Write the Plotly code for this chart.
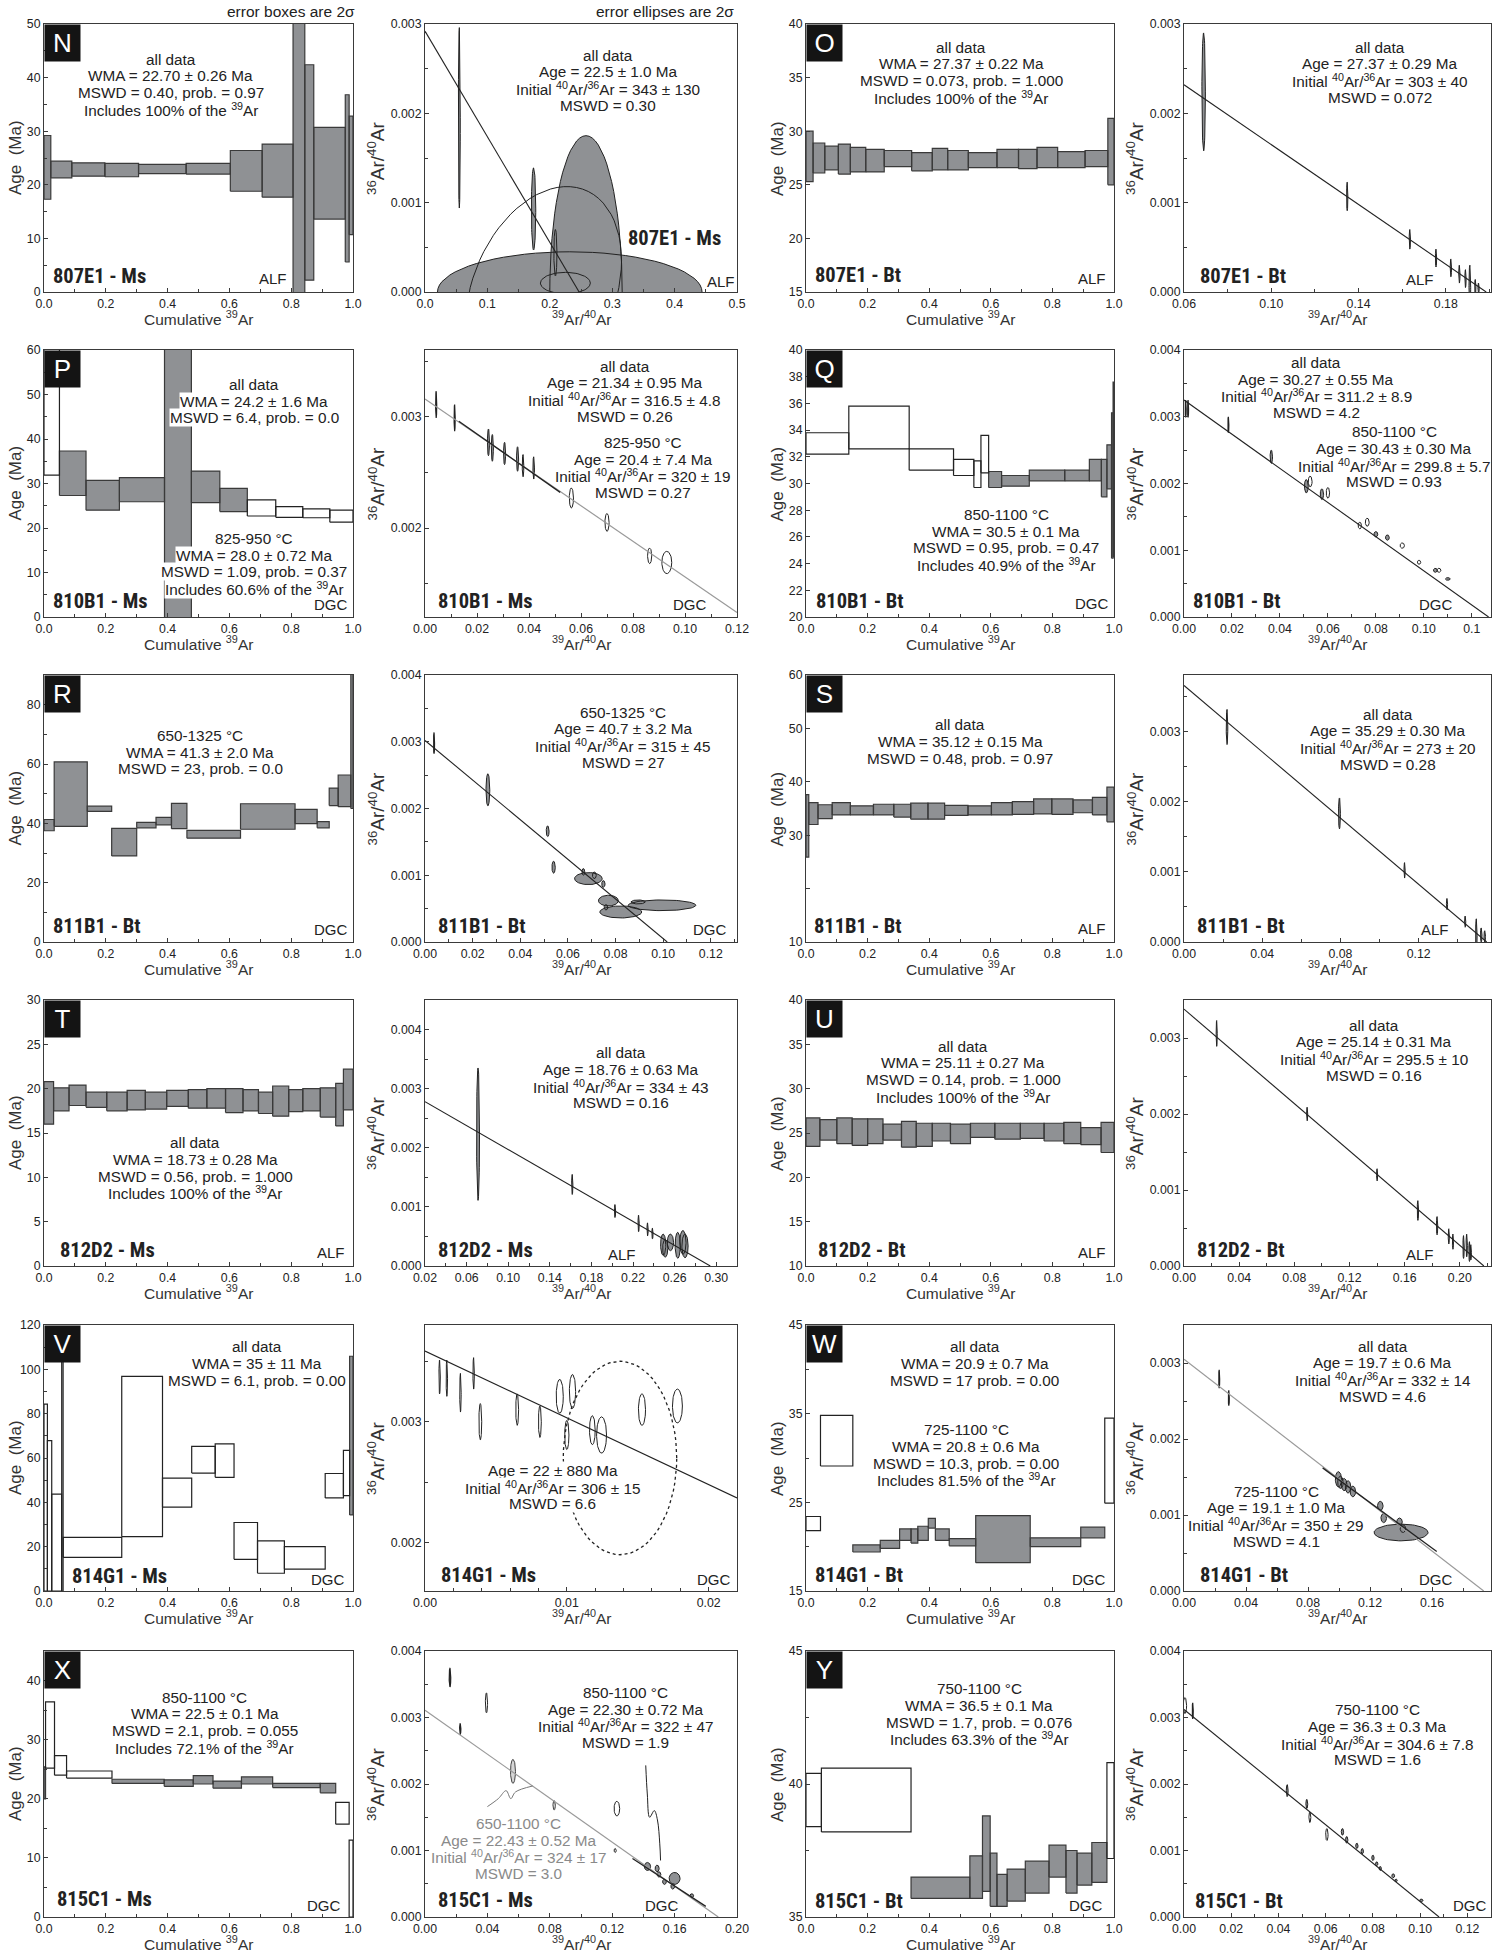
import numpy as np
import plotly.graph_objects as go

# ============================ DATA ============================
# Age spectra: cumulative 39Ar step boundaries, 2-sigma box low / high (Ma),
# box type per step (G = grey, used in mean; W = open, excluded)
N_cum = [0, 0.022, 0.09, 0.197, 0.306, 0.46, 0.603, 0.706, 0.806, 0.844, 0.873, 0.975, 0.9875, 1.0]
N_lo = [17.3, 21.3, 21.6, 21.5, 22.1, 22.0, 18.8, 17.7, -5, 2.2, 13.6, 5.6, 10.7]
N_hi = [29.2, 24.4, 24.1, 24.0, 23.8, 24.0, 26.4, 27.6, 60, 42.4, 30.7, 36.8, 32.8]
N_kind = "GGGGGGGGGGGGG"

O_cum = [0, 0.023, 0.061, 0.105, 0.144, 0.194, 0.254, 0.343, 0.41, 0.46, 0.527, 0.62, 0.69, 0.75, 0.817, 0.906, 0.98, 1.0]
O_lo = [25.3, 26.1, 26.4, 26.0, 26.2, 26.2, 26.7, 26.3, 26.4, 26.4, 26.6, 26.6, 26.5, 26.6, 26.6, 26.7, 25.0]
O_hi = [30.0, 28.9, 28.6, 28.8, 28.5, 28.3, 28.2, 28.0, 28.4, 28.2, 28.0, 28.3, 28.3, 28.5, 28.1, 28.2, 31.2]
O_kind = "GGGGGGGGGGGGGGGGG"

P_cum = [0, 0.05, 0.136, 0.244, 0.39, 0.477, 0.569, 0.658, 0.75, 0.8375, 0.925, 1.0]
P_lo = [31.9, 27.3, 24.0, 25.9, -5, 25.7, 23.7, 22.7, 22.4, 22.3, 21.3]
P_hi = [70, 37.3, 30.7, 31.3, 70, 32.8, 28.9, 26.3, 24.8, 24.3, 24.0]
P_kind = "WGGGGGGWWWW"

Q_cum = [0, 0.139, 0.335, 0.479, 0.545, 0.568, 0.593, 0.635, 0.725, 0.84, 0.92, 0.959, 0.977, 0.992, 0.997, 1.0]
Q_lo = [32.2, 32.6, 31.0, 30.6, 29.7, 30.8, 29.7, 29.8, 30.2, 30.2, 30.2, 29.0, 29.6, 24.4, 24.5]
Q_hi = [33.8, 35.8, 32.6, 31.8, 31.7, 33.6, 30.9, 30.6, 31.0, 31.0, 31.8, 31.8, 32.9, 35.3, 37.6]
Q_kind = "WWWWWWGGGGGGGGG"

R_cum = [0, 0.033, 0.14, 0.219, 0.30, 0.3625, 0.4125, 0.4625, 0.636, 0.8125, 0.884, 0.923, 0.952, 0.993, 1.0]
R_lo = [37.5, 39.0, 44.0, 29.0, 38.5, 39.5, 38.2, 35.0, 38.0, 39.9, 38.5, 46.0, 45.6, 45.0]
R_hi = [41.3, 60.7, 45.8, 38.3, 40.3, 42.0, 46.7, 37.6, 46.6, 44.7, 40.6, 51.9, 56.3, 95.0]
R_kind = "GGGGGGGGGGGGGG"

S_cum = [0, 0.009, 0.039, 0.085, 0.144, 0.219, 0.285, 0.34, 0.396, 0.45, 0.526, 0.602, 0.67, 0.739, 0.798, 0.867, 0.93, 0.977, 1.0]
S_lo = [25.9, 32.0, 33.1, 33.8, 33.8, 33.8, 33.4, 33.0, 33.0, 33.7, 33.8, 33.8, 33.9, 34.0, 33.9, 34.2, 33.8, 32.5]
S_hi = [37.6, 36.1, 35.7, 36.1, 35.5, 35.8, 35.8, 36.0, 36.0, 35.6, 35.5, 36.1, 36.3, 36.8, 36.8, 36.6, 37.1, 39.0]
S_kind = "GGGGGGGGGGGGGGGGGG"

T_cum = [0, 0.031, 0.081, 0.136, 0.203, 0.269, 0.328, 0.397, 0.467, 0.527, 0.5875, 0.644, 0.694, 0.74, 0.792, 0.8375, 0.894, 0.944, 0.969, 1.0]
T_lo = [16.0, 17.5, 18.1, 17.9, 17.5, 17.6, 17.7, 18.0, 17.8, 17.8, 17.3, 17.5, 17.2, 16.9, 17.4, 17.5, 16.8, 15.8, 17.6]
T_hi = [20.8, 20.1, 20.4, 19.6, 19.6, 19.8, 19.6, 19.8, 19.9, 20.0, 20.0, 19.9, 19.6, 20.3, 19.9, 20.0, 20.1, 20.6, 22.2]
T_kind = "GGGGGGGGGGGGGGGGGGG"

U_cum = [0, 0.045, 0.10, 0.15, 0.20, 0.25, 0.31, 0.358, 0.41, 0.469, 0.534, 0.613, 0.696, 0.773, 0.837, 0.892, 0.958, 1.0]
U_lo = [23.5, 24.2, 23.8, 23.6, 23.8, 24.2, 23.4, 23.5, 24.1, 23.8, 24.5, 24.3, 24.4, 24.1, 23.8, 23.7, 22.8]
U_hi = [26.7, 26.5, 26.7, 26.6, 26.6, 26.0, 26.3, 26.1, 26.1, 26.0, 26.1, 26.1, 26.1, 26.1, 26.2, 25.6, 26.2]
U_kind = "GGGGGGGGGGGGGGGGG"

V_cum = [0, 0.011, 0.025, 0.057, 0.062, 0.2516, 0.3835, 0.478, 0.554, 0.615, 0.691, 0.778, 0.91, 0.969, 0.989, 1.0]
V_lo = [0, 0, 0, 0, 15.2, 24.5, 37.8, 53.2, 51.3, 14.3, 8.0, 9.9, 42.0, 43.0, 34.3]
V_hi = [84.3, 67.8, 43.7, 106.0, 24.2, 96.8, 50.9, 65.2, 66.4, 30.9, 22.6, 20.0, 53.0, 63.4, 105.9]
V_kind = "WWWGWWWWWWWWWWG"

W_cum = [0, 0.047, 0.152, 0.241, 0.304, 0.341, 0.363, 0.397, 0.42, 0.465, 0.551, 0.728, 0.892, 0.97, 1.0]
W_lo = [21.8, 29.1, 19.4, 19.8, 20.7, 20.4, 20.7, 22.1, 20.7, 20.1, 18.2, 20.0, 21.0, 24.9]
W_hi = [23.4, 34.8, 20.2, 20.7, 22.0, 22.0, 22.3, 23.2, 22.0, 20.9, 23.5, 21.0, 22.2, 34.5]
W_kind = "WWGGGGGGGGGGGW"

X_cum = [0, 0.005, 0.034, 0.073, 0.22, 0.389, 0.483, 0.547, 0.639, 0.74, 0.894, 0.944, 0.9875, 1.0]
X_lo = [20.0, 25.2, 24.0, 23.5, 22.6, 22.1, 22.5, 21.8, 22.5, 21.9, 21.0, 15.7, 0.0]
X_hi = [25.4, 36.4, 27.3, 24.7, 23.3, 23.2, 23.9, 23.0, 23.7, 22.6, 22.6, 19.4, 13.0]
X_kind = "GWWWGGGGGGGWW"

Y_cum = [0, 0.05, 0.341, 0.532, 0.573, 0.598, 0.62, 0.653, 0.712, 0.789, 0.844, 0.88, 0.928, 0.977, 1.0]
Y_lo = [38.4, 38.2, 35.7, 35.7, 35.96, 35.4, 35.4, 35.6, 35.9, 36.5, 35.9, 36.2, 36.3, 37.2]
Y_hi = [40.4, 40.6, 36.5, 37.3, 38.8, 37.4, 36.6, 36.8, 37.1, 37.7, 37.5, 37.4, 37.8, 40.8]
Y_kind = "WWGGGGGGGGGGGW"

# Inverse isochrons: ellipse centre (39Ar/40Ar, 36Ar/40Ar), 2-sigma half widths, correlation,
# style (g grey, w open, d dark, l light grey, o dotted), and isochron fit end points
isoN_cx = [0.232, 0.258, 0.19, 0.225, 0.055, 0.174, 0.209]
isoN_cy = [0.0, 0.0, 0.0, 0.0001, 0.00195, 0.00093, 0.00044]
isoN_sx = [0.212, 0.058, 0.125, 0.04, 0.0015, 0.0035, 0.0025]
isoN_sy = [0.00045, 0.00175, 0.00118, 0.00012, 0.00101, 0.00046, 0.00026]
isoN_rho = [0, 0, 0.3, 0, 0, 0, 0]
isoN_kind = "ggwwggg"
isoN_fit_x = [0.0, 0.247]
isoN_fit_y = [0.00292, 0.0]

isoO_cx = [0.069, 0.1348, 0.1635, 0.1755, 0.1823, 0.1862, 0.189, 0.191, 0.1935, 0.195]
isoO_cy = [0.00224, 0.00107, 0.00059, 0.00038, 0.00027, 0.0002, 0.00015, 0.00005, 0.00006, 0.00004]
isoO_sx = [0.0008, 0.0003, 0.0003, 0.0003, 0.0003, 0.0003, 0.0003, 0.0004, 0.0003, 0.0003]
isoO_sy = [0.00066, 0.00016, 0.00011, 0.0001, 0.0001, 0.0001, 0.0001, 0.00025, 0.00008, 0.00006]
isoO_kind = "gggggggggg"
isoO_fit_x = [0.06, 0.1985]
isoO_fit_y = [0.00232, 0.0]

isoP_cx = [0.0043, 0.0114, 0.0244, 0.0259, 0.0306, 0.0356, 0.0377, 0.0418, 0.0563, 0.070, 0.0864, 0.093]
isoP_cy = [0.00311, 0.00299, 0.00277, 0.00272, 0.00267, 0.00262, 0.00256, 0.00254, 0.00227, 0.00205, 0.00175, 0.00169]
isoP_sx = [0.0002, 0.0002, 0.0004, 0.0004, 0.0004, 0.0004, 0.0003, 0.0003, 0.0008, 0.0008, 0.0008, 0.0019]
isoP_sy = [0.00012, 0.00012, 0.00012, 0.00012, 0.0001, 0.00011, 0.0001, 0.0001, 0.00009, 0.00008, 0.00007, 0.0001]
isoP_kind = "ddggggggwwww"
isoP_fit_x = [0.0, 0.12]
isoP_fit_y = [0.00316, 0.00124]
isoP_sub_x = [0.013, 0.052]
isoP_sub_y = [0.00296, 0.00232]

isoQ_cx = [0.0007, 0.0017, 0.0185, 0.0364, 0.051, 0.0526, 0.0575, 0.060, 0.0733, 0.0764, 0.080, 0.0848, 0.091, 0.098, 0.1048, 0.1063, 0.110]
isoQ_cy = [0.00312, 0.00312, 0.00288, 0.00240, 0.00196, 0.00203, 0.00184, 0.00186, 0.00137, 0.00142, 0.00124, 0.00119, 0.00107, 0.00082, 0.00070, 0.00070, 0.00057]
isoQ_sx = [0.0002, 0.0002, 0.0002, 0.0005, 0.0008, 0.0008, 0.0007, 0.0007, 0.0007, 0.0008, 0.0008, 0.0008, 0.0009, 0.0007, 0.0008, 0.0008, 0.001]
isoQ_sy = [0.00013, 0.00013, 0.00012, 0.0001, 0.0001, 0.00008, 0.00008, 0.00008, 0.00005, 0.00006, 0.00004, 0.00004, 0.00004, 0.00003, 0.00003, 0.00003, 0.00002]
isoQ_kind = "dddggwgwwwggwwgwg"
isoQ_fit_x = [0.0, 0.127]
isoQ_fit_y = [0.00325, 0.0]

isoR_cx = [0.0038, 0.0995, 0.0822, 0.0686, 0.077, 0.0264, 0.0515, 0.054, 0.0665, 0.0711, 0.0749, 0.076, 0.0895]
isoR_cy = [0.00298, 0.00055, 0.00045, 0.00095, 0.00062, 0.00228, 0.00166, 0.00112, 0.00105, 0.001, 0.00087, 0.00052, 0.0006]
isoR_sx = [0.0002, 0.0142, 0.0088, 0.0058, 0.0042, 0.0008, 0.0006, 0.0007, 0.0006, 0.0008, 0.0007, 0.0008, 0.003]
isoR_sy = [0.00016, 0.00008, 0.00009, 0.00009, 0.00008, 0.00024, 0.00008, 0.00009, 0.00005, 0.00005, 0.00005, 0.00004, 0.00003]
isoR_kind = "dgggggggggggg"
isoR_fit_x = [0.0, 0.1017]
isoR_fit_y = [0.00302, 0.0]

isoS_cx = [0.022, 0.0795, 0.1128, 0.1345, 0.1438, 0.1495, 0.152, 0.1538]
isoS_cy = [0.00306, 0.00183, 0.00102, 0.00054, 0.00029, 0.00009, 0.0001, 0.00008]
isoS_sx = [0.0004, 0.0005, 0.0003, 0.0003, 0.0003, 0.0004, 0.0004, 0.0004]
isoS_sy = [0.00025, 0.00022, 0.00011, 0.00008, 0.00008, 0.00024, 0.0001, 0.00008]
isoS_kind = "gggggggg"
isoS_fit_x = [0.0, 0.1548]
isoS_fit_y = [0.00365, 0.0]

isoT_cx = [0.071, 0.1616, 0.2027, 0.2254, 0.234, 0.2387, 0.249, 0.251, 0.256, 0.263, 0.268, 0.27]
isoT_cy = [0.00223, 0.00138, 0.00093, 0.00072, 0.00062, 0.00055, 0.00036, 0.0003, 0.0004, 0.00035, 0.0004, 0.00034]
isoT_sx = [0.0014, 0.0006, 0.0006, 0.0006, 0.0006, 0.0006, 0.0025, 0.0025, 0.003, 0.0025, 0.003, 0.003]
isoT_sy = [0.00112, 0.00017, 0.00011, 0.00014, 0.00011, 0.00009, 0.00018, 0.00015, 0.00014, 0.00022, 0.0002, 0.0002]
isoT_kind = "gggggggggggg"
isoT_fit_x = [0.02, 0.2943]
isoT_fit_y = [0.00278, 0.0]

isoU_cx = [0.0237, 0.0893, 0.14, 0.1696, 0.1835, 0.192, 0.195, 0.2027, 0.205, 0.207, 0.208]
isoU_cy = [0.00306, 0.002, 0.0012, 0.00073, 0.00053, 0.00039, 0.00032, 0.00025, 0.00027, 0.00019, 0.00018]
isoU_sx = [0.0004, 0.0004, 0.0004, 0.0005, 0.0005, 0.0004, 0.0004, 0.0005, 0.0005, 0.0005, 0.0004]
isoU_sy = [0.00017, 0.00009, 0.00008, 0.00013, 0.00012, 0.0001, 0.0001, 0.00015, 0.00015, 0.00013, 0.0001]
isoU_kind = "ggggggggggg"
isoU_fit_x = [0.0, 0.2174]
isoU_fit_y = [0.00338, 0.0]

isoV_cx = [0.00103, 0.00154, 0.0025, 0.00343, 0.0039, 0.0065, 0.0081, 0.0095, 0.0100, 0.0104, 0.0118, 0.01245, 0.0153, 0.0178, 0.01375]
isoV_cy = [0.00337, 0.00336, 0.00324, 0.0034, 0.0030, 0.0031, 0.0030, 0.00321, 0.00289, 0.00325, 0.00293, 0.00289, 0.0031, 0.00313, 0.0027]
isoV_sx = [0.00005, 0.00005, 0.00005, 0.00005, 0.0001, 0.0001, 0.0001, 0.00025, 0.00015, 0.00022, 0.0002, 0.00035, 0.00025, 0.00035, 0.004]
isoV_sy = [0.00014, 0.00015, 0.00016, 0.00013, 0.00015, 0.00013, 0.00013, 0.00014, 0.00012, 0.00014, 0.00012, 0.00015, 0.00013, 0.00014, 0.0008]
isoV_kind = "wwwwwwwwwwwwwwo"
isoV_fit_x = [0.0, 0.022]
isoV_fit_y = [0.003584, 0.00237]

isoW_cx = [0.0227, 0.0289, 0.14, 0.0996, 0.1009, 0.1033, 0.1058, 0.1089, 0.1266, 0.1288, 0.139, 0.1412]
isoW_cy = [0.00279, 0.00254, 0.00077, 0.00147, 0.00143, 0.0014, 0.00137, 0.00131, 0.00112, 0.00096, 0.00091, 0.00082]
isoW_sx = [0.0003, 0.0003, 0.0174, 0.002, 0.0018, 0.0018, 0.0018, 0.0018, 0.0018, 0.0018, 0.0018, 0.0018]
isoW_sy = [0.00012, 0.0001, 0.00011, 0.0001, 0.00008, 0.00008, 0.00008, 0.00007, 0.00006, 0.00006, 0.00005, 0.00005]
isoW_kind = "ddgggggggggg"
isoW_fit_x = [0.0, 0.1933]
isoW_fit_y = [0.00305, 0.0]
isoW_sub_x = [0.0894, 0.163]
isoW_sub_y = [0.00162, 0.00052]

isoX_cx = [0.016, 0.0394, 0.0226, 0.0564, 0.0828, 0.123, 0.1219, 0.1426, 0.1488, 0.150, 0.1535, 0.160, 0.1588, 0.171]
isoX_cy = [0.0036, 0.00322, 0.00283, 0.00219, 0.00168, 0.00163, 0.001, 0.00076, 0.00073, 0.00064, 0.00053, 0.00058, 0.00046, 0.00032]
isoX_sx = [0.0005, 0.0007, 0.0004, 0.0016, 0.0008, 0.0018, 0.0007, 0.002, 0.0013, 0.0012, 0.0012, 0.0035, 0.0012, 0.0012]
isoX_sy = [0.00014, 0.00015, 0.00008, 0.00018, 0.00007, 0.00011, 0.00003, 0.00006, 0.00005, 0.00004, 0.00004, 0.00009, 0.00004, 0.00003]
isoX_kind = "dwdllwwggggggg"
isoX_fit_x = [0.0, 0.188]
isoX_fit_y = [0.00311, 0.0]
isoX_sub_x = [0.133, 0.18]
isoX_sub_y = [0.00088, 0.00016]
isoX_lead_grey_x = [0.040, 0.047, 0.052, 0.055, 0.058, 0.069]
isoX_lead_grey_y = [0.00166, 0.00178, 0.0019, 0.00178, 0.00188, 0.00197]
isoX_lead_black_x = [0.1415, 0.1425, 0.1440, 0.1470, 0.1490, 0.1505, 0.151]
isoX_lead_black_y = [0.00228, 0.00185, 0.00150, 0.00160, 0.00146, 0.00110, 0.00085]

isoY_cx = [0.0004, 0.0037, 0.0437, 0.052, 0.0533, 0.0605, 0.0671, 0.0689, 0.0732, 0.0755, 0.08, 0.0816, 0.0831, 0.0886, 0.0898, 0.1005]
isoY_cy = [0.00318, 0.0031, 0.0019, 0.0017, 0.0015, 0.00124, 0.00128, 0.00116, 0.00107, 0.00099, 0.00089, 0.0008, 0.00073, 0.00062, 0.00055, 0.00025]
isoY_sx = [0.0007, 0.0002, 0.0004, 0.0004, 0.0004, 0.0005, 0.0005, 0.0005, 0.0005, 0.0005, 0.0005, 0.0005, 0.0005, 0.0006, 0.0005, 0.0007]
isoY_sy = [0.00012, 0.00012, 0.00009, 0.00007, 0.00008, 0.00009, 0.00005, 0.00005, 0.00004, 0.00004, 0.00004, 0.00003, 0.00003, 0.00003, 0.00002, 0.00002]
isoY_kind = "wdggwwgggggggggg"
isoY_fit_x = [0.0, 0.108]
isoY_fit_y = [0.00312, 0.0]

# ------------------------- texts -------------------------
INIT = "Initial <sup>40</sup>Ar/<sup>36</sup>Ar = "
INC = " of the <sup>39</sup>Ar"
N_txt = ["all data", "WMA = 22.70 ± 0.26 Ma", "MSWD = 0.40, prob. = 0.97", "Includes 100%" + INC]
isoN_txt = ["all data", "Age = 22.5 ± 1.0 Ma", INIT + "343 ± 130", "MSWD = 0.30"]
O_txt = ["all data", "WMA = 27.37 ± 0.22 Ma", "MSWD = 0.073, prob. = 1.000", "Includes 100%" + INC]
isoO_txt = ["all data", "Age = 27.37 ± 0.29 Ma", INIT + "303 ± 40", "MSWD = 0.072"]
P_txt_a = ["all data", "WMA = 24.2 ± 1.6 Ma", "MSWD = 6.4, prob. = 0.0"]
P_txt_b = ["825-950 °C", "WMA = 28.0 ± 0.72 Ma", "MSWD = 1.09, prob. = 0.37", "Includes 60.6%" + INC]
isoP_txt_a = ["all data", "Age = 21.34 ± 0.95 Ma", INIT + "316.5 ± 4.8", "MSWD = 0.26"]
isoP_txt_b = ["825-950 °C", "Age = 20.4 ± 7.4 Ma", INIT + "320 ± 19", "MSWD = 0.27"]
Q_txt = ["850-1100 °C", "WMA = 30.5 ± 0.1 Ma", "MSWD = 0.95, prob. = 0.47", "Includes 40.9%" + INC]
isoQ_txt_a = ["all data", "Age = 30.27 ± 0.55 Ma", INIT + "311.2 ± 8.9", "MSWD = 4.2"]
isoQ_txt_b = ["850-1100 °C", "Age = 30.43 ± 0.30 Ma", INIT + "299.8 ± 5.7", "MSWD = 0.93"]
R_txt = ["650-1325 °C", "WMA = 41.3 ± 2.0 Ma", "MSWD = 23, prob. = 0.0"]
isoR_txt = ["650-1325 °C", "Age = 40.7 ± 3.2 Ma", INIT + "315 ± 45", "MSWD = 27"]
S_txt = ["all data", "WMA = 35.12 ± 0.15 Ma", "MSWD = 0.48, prob. = 0.97"]
isoS_txt = ["all data", "Age = 35.29 ± 0.30 Ma", INIT + "273 ± 20", "MSWD = 0.28"]
T_txt = ["all data", "WMA = 18.73 ± 0.28 Ma", "MSWD = 0.56, prob. = 1.000", "Includes 100%" + INC]
isoT_txt = ["all data", "Age = 18.76 ± 0.63 Ma", INIT + "334 ± 43", "MSWD = 0.16"]
U_txt = ["all data", "WMA = 25.11 ± 0.27 Ma", "MSWD = 0.14, prob. = 1.000", "Includes 100%" + INC]
isoU_txt = ["all data", "Age = 25.14 ± 0.31 Ma", INIT + "295.5 ± 10", "MSWD = 0.16"]
V_txt = ["all data", "WMA = 35 ± 11 Ma", "MSWD = 6.1, prob. = 0.00"]
isoV_txt = ["Age = 22 ± 880 Ma", INIT + "306 ± 15", "MSWD = 6.6"]
W_txt_a = ["all data", "WMA = 20.9 ± 0.7 Ma", "MSWD = 17 prob. = 0.00"]
W_txt_b = ["725-1100 °C", "WMA = 20.8 ± 0.6 Ma", "MSWD = 10.3, prob. = 0.00", "Includes 81.5%" + INC]
isoW_txt_a = ["all data", "Age = 19.7 ± 0.6 Ma", INIT + "332 ± 14", "MSWD = 4.6"]
isoW_txt_b = ["725-1100 °C", "Age = 19.1 ± 1.0 Ma", INIT + "350 ± 29", "MSWD = 4.1"]
X_txt = ["850-1100 °C", "WMA = 22.5 ± 0.1 Ma", "MSWD = 2.1, prob. = 0.055", "Includes 72.1%" + INC]
isoX_txt_a = ["850-1100 °C", "Age = 22.30 ± 0.72 Ma", INIT + "322 ± 47", "MSWD = 1.9"]
isoX_txt_b = ["650-1100 °C", "Age = 22.43 ± 0.52 Ma", INIT + "324 ± 17", "MSWD = 3.0"]
Y_txt = ["750-1100 °C", "WMA = 36.5 ± 0.1 Ma", "MSWD = 1.7, prob. = 0.076", "Includes 63.3%" + INC]
isoY_txt = ["750-1100 °C", "Age = 36.3 ± 0.3 Ma", INIT + "304.6 ± 7.8", "MSWD = 1.6"]

# ============================ STYLE / LAYOUT ============================
FONT = "Liberation Sans, Arial, Helvetica, sans-serif"
NARROW = "Roboto Condensed, Liberation Sans Narrow, Arial Narrow, Liberation Sans, sans-serif"
INK = "#222222"
FRAME = "#3a3a3a"
GREY = "#8f9194"
LIGHT = "#d6d6d6"
FITGREY = "#9a9a9a"
TXT = 15.3
LINE_PX = 16.7

W_FIG, H_FIG, OFF = 1503, 1950, 0
COLS = [(44, 353), (425, 737), (806, 1114), (1184, 1491)]
ROWS = [(24, 292), (350, 617), (675, 942), (1000, 1266), (1325, 1591), (1651, 1917)]


def dom_x(a, b):
    return [(a - OFF) / W_FIG, (b - OFF) / W_FIG]


def dom_y(top, bot):
    return [1 - (bot - OFF) / H_FIG, 1 - (top - OFF) / H_FIG]


def seq(a, b, step):
    n = int(round((b - a) / step))
    return [round(a + i * step, 6) for i in range(n + 1)]


AGE_X = "Cumulative <sup>39</sup>Ar"
AGE_Y = "Age  (Ma)"
ISO_X = "<sup>39</sup>Ar/<sup>40</sup>Ar"
ISO_Y = "<sup>36</sup>Ar/<sup>40</sup>Ar"

age_specs = {
    "N": dict(cum=N_cum, lo=N_lo, hi=N_hi, kind=N_kind, yr=[0, 50], ytv=seq(0, 50, 10), ymin=seq(5, 45, 10),
              sample="807E1 - Ms", loc="ALF", sxy=(0.022, 0.06), lxy=(0.74, 0.05),
              texts=[(N_txt, 0.41, 0.895, None, INK)]),
    "O": dict(cum=O_cum, lo=O_lo, hi=O_hi, kind=O_kind, yr=[15, 40], ytv=seq(15, 40, 5), ymin=[],
              sample="807E1 - Bt", loc="ALF", sxy=(0.023, 0.065), lxy=(0.93, 0.05),
              texts=[(O_txt, 0.504, 0.94, None, INK)]),
    "P": dict(cum=P_cum, lo=P_lo, hi=P_hi, kind=P_kind, yr=[0, 60], ytv=seq(0, 60, 10), ymin=seq(5, 55, 10),
              sample="810B1 - Ms", loc="DGC", sxy=(0.022, 0.06), lxy=(0.93, 0.045),
              texts=[(P_txt_a, 0.68, 0.897, "white", INK), (P_txt_b, 0.68, 0.32, "white", INK)]),
    "Q": dict(cum=Q_cum, lo=Q_lo, hi=Q_hi, kind=Q_kind, yr=[20, 40], ytv=seq(20, 40, 2), ymin=[],
              sample="810B1 - Bt", loc="DGC", sxy=(0.027, 0.06), lxy=(0.93, 0.05),
              texts=[(Q_txt, 0.65, 0.41, None, INK)]),
    "R": dict(cum=R_cum, lo=R_lo, hi=R_hi, kind=R_kind, yr=[0, 90], ytv=seq(0, 80, 20), ymin=seq(10, 90, 20),
              sample="811B1 - Bt", loc="DGC", sxy=(0.022, 0.06), lxy=(0.93, 0.046),
              texts=[(R_txt, 0.506, 0.80, None, INK)]),
    "S": dict(cum=S_cum, lo=S_lo, hi=S_hi, kind=S_kind, yr=[10, 60], ytv=seq(10, 60, 10), ymin=[],
              ylab=["10", "", "30", "40", "50", "60"],
              sample="811B1 - Bt", loc="ALF", sxy=(0.019, 0.06), lxy=(0.93, 0.05),
              texts=[(S_txt, 0.50, 0.84, None, INK)]),
    "T": dict(cum=T_cum, lo=T_lo, hi=T_hi, kind=T_kind, yr=[0, 30], ytv=seq(0, 30, 5), ymin=[],
              sample="812D2 - Ms", loc="ALF", sxy=(0.045, 0.06), lxy=(0.93, 0.05),
              texts=[(T_txt, 0.49, 0.49, None, INK)]),
    "U": dict(cum=U_cum, lo=U_lo, hi=U_hi, kind=U_kind, yr=[10, 40], ytv=seq(10, 40, 5), ymin=[],
              sample="812D2 - Bt", loc="ALF", sxy=(0.034, 0.06), lxy=(0.93, 0.05),
              texts=[(U_txt, 0.51, 0.853, None, INK)]),
    "V": dict(cum=V_cum, lo=V_lo, hi=V_hi, kind=V_kind, yr=[0, 120], ytv=seq(0, 120, 20), ymin=seq(10, 110, 20),
              sample="814G1 - Ms", loc="DGC", sxy=(0.084, 0.056), lxy=(0.92, 0.045),
              texts=[(V_txt, 0.69, 0.945, None, INK)]),
    "W": dict(cum=W_cum, lo=W_lo, hi=W_hi, kind=W_kind, yr=[15, 45], ytv=seq(15, 45, 10), ymin=seq(20, 40, 10),
              sample="814G1 - Bt", loc="DGC", sxy=(0.023, 0.06), lxy=(0.92, 0.045),
              texts=[(W_txt_a, 0.548, 0.945, None, INK), (W_txt_b, 0.52, 0.6325, None, INK)]),
    "X": dict(cum=X_cum, lo=X_lo, hi=X_hi, kind=X_kind, yr=[0, 45], ytv=seq(0, 40, 10), ymin=seq(5, 45, 10),
              sample="815C1 - Ms", loc="DGC", sxy=(0.034, 0.068), lxy=(0.905, 0.045),
              texts=[(X_txt, 0.52, 0.8525, None, INK)]),
    "Y": dict(cum=Y_cum, lo=Y_lo, hi=Y_hi, kind=Y_kind, yr=[35, 45], ytv=seq(35, 45, 5), ymin=[37.5, 42.5],
              sample="815C1 - Bt", loc="DGC", sxy=(0.023, 0.06), lxy=(0.91, 0.045),
              texts=[(Y_txt, 0.563, 0.884, None, INK)]),
}

iso_specs = {
    "N": dict(cx=isoN_cx, cy=isoN_cy, sx=isoN_sx, sy=isoN_sy, rho=isoN_rho, kind=isoN_kind,
              fits=[(isoN_fit_x, isoN_fit_y, INK, 1.1)],
              xr=[0, 0.5], xtv=seq(0, 0.5, 0.1), xfmt="{:.1f}", xmin=seq(0.05, 0.45, 0.1),
              yr=[0, 0.003], ytv=seq(0, 0.003, 0.001), ymin=seq(0.0005, 0.0025, 0.001),
              sample="807E1 - Ms", loc="ALF", sxy=(0.80, 0.2), s_anchor="center", lxy=(0.95, 0.04),
              texts=[(isoN_txt, 0.587, 0.91, None, INK)]),
    "O": dict(cx=isoO_cx, cy=isoO_cy, sx=isoO_sx, sy=isoO_sy, rho=None, kind=isoO_kind,
              fits=[(isoO_fit_x, isoO_fit_y, INK, 1.1)],
              xr=[0.06, 0.2007], xtv=seq(0.06, 0.18, 0.04), xfmt="{:.2f}", xmin=seq(0.08, 0.20, 0.04),
              yr=[0, 0.003], ytv=seq(0, 0.003, 0.001), ymin=seq(0.0005, 0.0025, 0.001),
              sample="807E1 - Bt", loc="ALF", sxy=(0.044, 0.06), lxy=(0.77, 0.045),
              texts=[(isoO_txt, 0.64, 0.94, None, INK)]),
    "P": dict(cx=isoP_cx, cy=isoP_cy, sx=isoP_sx, sy=isoP_sy, rho=None, kind=isoP_kind,
              fits=[(isoP_fit_x, isoP_fit_y, FITGREY, 1.2), (isoP_sub_x, isoP_sub_y, INK, 1.3)],
              xr=[0, 0.12], xtv=seq(0, 0.12, 0.02), xfmt="{:.2f}", xmin=seq(0.01, 0.11, 0.02),
              yr=[0.0012, 0.0036], ytv=[0.002, 0.003], ymin=[0.0015, 0.0025, 0.0035],
              sample="810B1 - Ms", loc="DGC", sxy=(0.036, 0.06), lxy=(0.85, 0.045),
              texts=[(isoP_txt_a, 0.64, 0.966, None, INK), (isoP_txt_b, 0.70, 0.68, None, INK)]),
    "Q": dict(cx=isoQ_cx, cy=isoQ_cy, sx=isoQ_sx, sy=isoQ_sy, rho=None, kind=isoQ_kind,
              fits=[(isoQ_fit_x, isoQ_fit_y, INK, 1.1)],
              xr=[0, 0.128], xtv=seq(0, 0.12, 0.02), xfmt="{:.2f}", xmin=seq(0.01, 0.11, 0.02),
              xlab=["0.00", "0.02", "0.04", "0.06", "0.08", "0.10", "0.1"],
              yr=[0, 0.004], ytv=seq(0, 0.004, 0.001), ymin=seq(0.0005, 0.0035, 0.001),
              sample="810B1 - Bt", loc="DGC", sxy=(0.024, 0.06), lxy=(0.82, 0.045),
              texts=[(isoQ_txt_a, 0.43, 0.98, None, INK), (isoQ_txt_b, 0.685, 0.72, None, INK)]),
    "R": dict(cx=isoR_cx, cy=isoR_cy, sx=isoR_sx, sy=isoR_sy, rho=None, kind=isoR_kind,
              fits=[(isoR_fit_x, isoR_fit_y, INK, 1.1)],
              xr=[0, 0.131], xtv=seq(0, 0.12, 0.02), xfmt="{:.2f}", xmin=seq(0.01, 0.13, 0.02),
              yr=[0, 0.004], ytv=seq(0, 0.004, 0.001), ymin=seq(0.0005, 0.0035, 0.001),
              sample="811B1 - Bt", loc="DGC", sxy=(0.036, 0.06), lxy=(0.915, 0.045),
              texts=[(isoR_txt, 0.635, 0.8875, None, INK)]),
    "S": dict(cx=isoS_cx, cy=isoS_cy, sx=isoS_sx, sy=isoS_sy, rho=None, kind=isoS_kind,
              fits=[(isoS_fit_x, isoS_fit_y, INK, 1.1)],
              xr=[0, 0.157], xtv=seq(0, 0.12, 0.04), xfmt="{:.2f}", xmin=seq(0.02, 0.14, 0.04),
              yr=[0, 0.0038], ytv=seq(0, 0.003, 0.001), ymin=seq(0.0005, 0.0035, 0.001),
              sample="811B1 - Bt", loc="ALF", sxy=(0.036, 0.06), lxy=(0.817, 0.045),
              texts=[(isoS_txt, 0.663, 0.88, None, INK)]),
    "T": dict(cx=isoT_cx, cy=isoT_cy, sx=isoT_sx, sy=isoT_sy, rho=None, kind=isoT_kind,
              fits=[(isoT_fit_x, isoT_fit_y, INK, 1.1)],
              xr=[0.02, 0.32], xtv=seq(0.02, 0.30, 0.04), xfmt="{:.2f}", xmin=seq(0.04, 0.32, 0.04),
              yr=[0, 0.0045], ytv=seq(0, 0.004, 0.001), ymin=seq(0.0005, 0.0045, 0.001),
              sample="812D2 - Ms", loc="ALF", sxy=(0.036, 0.06), lxy=(0.632, 0.045),
              texts=[(isoT_txt, 0.628, 0.828, None, INK)]),
    "U": dict(cx=isoU_cx, cy=isoU_cy, sx=isoU_sx, sy=isoU_sy, rho=None, kind=isoU_kind,
              fits=[(isoU_fit_x, isoU_fit_y, INK, 1.1)],
              xr=[0, 0.2226], xtv=seq(0, 0.20, 0.04), xfmt="{:.2f}", xmin=seq(0.02, 0.22, 0.04),
              yr=[0, 0.0035], ytv=seq(0, 0.003, 0.001), ymin=seq(0.0005, 0.0035, 0.001),
              sample="812D2 - Bt", loc="ALF", sxy=(0.036, 0.06), lxy=(0.77, 0.045),
              texts=[(isoU_txt, 0.62, 0.932, None, INK)]),
    "V": dict(cx=isoV_cx, cy=isoV_cy, sx=isoV_sx, sy=isoV_sy, rho=None, kind=isoV_kind,
              fits=[(isoV_fit_x, isoV_fit_y, INK, 1.1)],
              xr=[0, 0.022], xtv=[0, 0.01, 0.02], xfmt="{:.2f}", xmin=seq(0.002, 0.018, 0.002),
              yr=[0.0016, 0.0038], ytv=[0.002, 0.003], ymin=[0.0025, 0.0035],
              sample="814G1 - Ms", loc="DGC", sxy=(0.044, 0.06), lxy=(0.927, 0.045),
              texts=[(isoV_txt, 0.41, 0.48, "white", INK)]),
    "W": dict(cx=isoW_cx, cy=isoW_cy, sx=isoW_sx, sy=isoW_sy, rho=None, kind=isoW_kind,
              fits=[(isoW_fit_x, isoW_fit_y, FITGREY, 1.2), (isoW_sub_x, isoW_sub_y, INK, 1.3)],
              xr=[0, 0.198], xtv=seq(0, 0.16, 0.04), xfmt="{:.2f}", xmin=seq(0.02, 0.18, 0.04),
              yr=[0, 0.0035], ytv=seq(0, 0.003, 0.001), ymin=seq(0.0005, 0.0035, 0.001),
              sample="814G1 - Bt", loc="DGC", sxy=(0.047, 0.06), lxy=(0.82, 0.045),
              texts=[(isoW_txt_a, 0.647, 0.947, None, INK), (isoW_txt_b, 0.30, 0.402, None, INK)]),
    "X": dict(cx=isoX_cx, cy=isoX_cy, sx=isoX_sx, sy=isoX_sy, rho=None, kind=isoX_kind,
              fits=[(isoX_fit_x, isoX_fit_y, FITGREY, 1.2), (isoX_sub_x, isoX_sub_y, INK, 1.3),
                    (isoX_lead_grey_x, isoX_lead_grey_y, "#777777", 1.0),
                    (isoX_lead_black_x, isoX_lead_black_y, INK, 1.0)],
              xr=[0, 0.2], xtv=seq(0, 0.2, 0.04), xfmt="{:.2f}", xmin=seq(0.02, 0.18, 0.04),
              yr=[0, 0.004], ytv=seq(0, 0.004, 0.001), ymin=seq(0.0005, 0.0035, 0.001),
              sample="815C1 - Ms", loc="DGC", sxy=(0.036, 0.065), lxy=(0.76, 0.045),
              texts=[(isoX_txt_a, 0.643, 0.871, None, INK), (isoX_txt_b, 0.30, 0.3775, None, "#8a8a8a")]),
    "Y": dict(cx=isoY_cx, cy=isoY_cy, sx=isoY_sx, sy=isoY_sy, rho=None, kind=isoY_kind,
              fits=[(isoY_fit_x, isoY_fit_y, INK, 1.1)],
              xr=[0, 0.13], xtv=seq(0, 0.12, 0.02), xfmt="{:.2f}", xmin=seq(0.01, 0.13, 0.02),
              yr=[0, 0.004], ytv=seq(0, 0.004, 0.001), ymin=seq(0.0005, 0.0035, 0.001),
              sample="815C1 - Bt", loc="DGC", sxy=(0.03, 0.06), lxy=(0.93, 0.045),
              texts=[(isoY_txt, 0.63, 0.805, None, INK)]),
}

GRID = [["N", "O"], ["P", "Q"], ["R", "S"], ["T", "U"], ["V", "W"], ["X", "Y"]]

ELL_STYLE = {
    "l": dict(fill="toself", fillcolor=LIGHT, line=dict(color="#444444", width=1)),
    "g": dict(fill="toself", fillcolor=GREY, line=dict(color=INK, width=1)),
    "d": dict(fill="toself", fillcolor=INK, line=dict(color=INK, width=1.2)),
    "w": dict(fill="none", line=dict(color=INK, width=1)),
    "o": dict(fill="none", line=dict(color=INK, width=1.3, dash="dot")),
}


def box_path(cum, lo, hi, kind, want):
    xs, ys = [], []
    for i, k in enumerate(kind):
        if k != want:
            continue
        a, b = cum[i], cum[i + 1]
        xs += [a, b, b, a, a, None]
        ys += [lo[i], lo[i], hi[i], hi[i], lo[i], None]
    return xs, ys


def ell_path(sp, want):
    t = np.linspace(0, 2 * np.pi, 73)
    xs, ys = [], []
    for i, k in enumerate(sp["kind"]):
        if k != want:
            continue
        r = sp["rho"][i] if sp["rho"] else 0.0
        x = sp["cx"][i] + sp["sx"][i] * np.cos(t)
        y = sp["cy"][i] + sp["sy"][i] * (r * np.cos(t) + np.sqrt(1 - r * r) * np.sin(t))
        xs += x.tolist() + [None]
        ys += y.tolist() + [None]
    return xs, ys


def make_axis(domain, rng, anchor, tv, labels, minor):
    d = dict(domain=domain, range=rng, anchor=anchor, showline=True, mirror=True, linecolor=FRAME,
             linewidth=1, ticks="inside", ticklen=4, tickwidth=1, tickcolor=FRAME, showgrid=False,
             zeroline=False, automargin=False, fixedrange=True,
             tickfont=dict(family=FONT, size=12.3, color=INK),
             tickmode="array", tickvals=tv, ticktext=labels, title=dict(text=""))
    if minor:
        d["minor"] = dict(tickmode="array", tickvals=minor, ticks="inside", ticklen=3,
                          tickcolor=FRAME, showgrid=False)
    return d


fig = go.Figure()
layout = dict(width=W_FIG, height=H_FIG, margin=dict(l=0, r=0, t=0, b=0), template="none",
              paper_bgcolor="white", plot_bgcolor="white", showlegend=False,
              font=dict(family=FONT, size=TXT, color=INK))
annotations = []


def add_block(lines, xd, yd, x, ytop, bg, color, ph):
    y0 = ytop - 7.0 / ph
    for i, ln in enumerate(lines):
        a = dict(text=ln, x=x, y=y0 - i * LINE_PX / ph, xref=xd, yref=yd, xanchor="center",
                 yanchor="middle", align="center", showarrow=False,
                 font=dict(family=FONT, size=TXT, color=color))
        if bg:
            a["bgcolor"] = bg
            a["borderpad"] = 0
        annotations.append(a)


def add_common_labels(sp, xd, yd, ph):
    sx, sy = sp["sxy"]
    anchor = sp.get("s_anchor", "left")
    annotations.append(dict(text="<b>%s</b>" % sp["sample"], x=sx, y=sy, xref=xd, yref=yd,
                            xanchor=anchor, yanchor="middle", showarrow=False,
                            font=dict(family=NARROW, size=20.5, color=INK)))
    lx, ly = sp["lxy"]
    annotations.append(dict(text=sp["loc"], x=lx, y=ly, xref=xd, yref=yd, xanchor="center",
                            yanchor="middle", showarrow=False, font=dict(family=FONT, size=15, color=INK)))
    for lines, x, y, bg, color in sp["texts"]:
        add_block(lines, xd, yd, x, y, bg, color, ph)


def add_axis_titles(xd, yd, xt, yt, pw, ph, ytitle_off, ysize):
    annotations.append(dict(text=xt, x=0.5, y=-26.0 / ph, xref=xd, yref=yd, xanchor="center",
                            yanchor="middle", showarrow=False, font=dict(family=FONT, size=15.5, color="#333333")))
    annotations.append(dict(text=yt, x=-ytitle_off / pw, y=0.5, xref=xd, yref=yd, xanchor="center",
                            yanchor="middle", textangle=-90, showarrow=False,
                            font=dict(family=FONT, size=ysize, color="#333333")))


for r, (top, bot) in enumerate(ROWS):
    ph = bot - top
    for c in range(4):
        pw = COLS[c][1] - COLS[c][0]
        k = r * 4 + c + 1
        s = "" if k == 1 else str(k)
        xn, yn = "x" + s, "y" + s
        xd, yd = xn + " domain", yn + " domain"
        letter = GRID[r][c // 2]
        dx = dom_x(*COLS[c])
        dy = dom_y(top, bot)
        if c % 2 == 0:
            sp = age_specs[letter]
            for want in ("G", "W"):
                xs, ys = box_path(sp["cum"], sp["lo"], sp["hi"], sp["kind"], want)
                if not xs:
                    continue
                if want == "G":
                    fig.add_trace(go.Scatter(x=xs, y=ys, mode="lines", fill="toself", fillcolor=GREY,
                                             line=dict(color=FRAME, width=1.2), xaxis=xn, yaxis=yn,
                                             hoverinfo="skip", showlegend=False))
                else:
                    fig.add_trace(go.Scatter(x=xs, y=ys, mode="lines", fill="none",
                                             line=dict(color=INK, width=1.2), xaxis=xn, yaxis=yn,
                                             hoverinfo="skip", showlegend=False))
            xtv = seq(0, 1, 0.2)
            layout["xaxis" + s] = make_axis(dx, [0, 1], yn, xtv, ["{:.1f}".format(v) for v in xtv],
                                            seq(0.1, 0.9, 0.2))
            ylab = sp.get("ylab") or ["{:g}".format(v) for v in sp["ytv"]]
            layout["yaxis" + s] = make_axis(dy, sp["yr"], xn, sp["ytv"], ylab, sp["ymin"])
            annotations.append(dict(text=letter, x=0, y=1, xref=xd, yref=yd, xanchor="left", yanchor="top",
                                    showarrow=False, bgcolor="#141414", width=35, height=36, borderpad=0,
                                    align="center", valign="middle",
                                    font=dict(family=FONT, size=26, color="white")))
            add_common_labels(sp, xd, yd, ph)
            add_axis_titles(xd, yd, AGE_X, AGE_Y, pw, ph, 29, 17)
        else:
            sp = iso_specs[letter]
            for want in ("l", "g", "d", "w", "o"):
                xs, ys = ell_path(sp, want)
                if not xs:
                    continue
                st = ELL_STYLE[want]
                kw = dict(fill=st["fill"], line=st["line"])
                if "fillcolor" in st:
                    kw["fillcolor"] = st["fillcolor"]
                fig.add_trace(go.Scatter(x=xs, y=ys, mode="lines", xaxis=xn, yaxis=yn,
                                         hoverinfo="skip", showlegend=False, **kw))
            for fx, fy, col, wd in sp["fits"]:
                fig.add_trace(go.Scatter(x=fx, y=fy, mode="lines", line=dict(color=col, width=wd, shape="spline"),
                                         xaxis=xn, yaxis=yn, hoverinfo="skip", showlegend=False))
            xlab = sp.get("xlab") or [sp["xfmt"].format(v) for v in sp["xtv"]]
            layout["xaxis" + s] = make_axis(dx, sp["xr"], yn, sp["xtv"], xlab, sp["xmin"])
            layout["yaxis" + s] = make_axis(dy, sp["yr"], xn, sp["ytv"],
                                            ["{:.3f}".format(v) for v in sp["ytv"]], sp["ymin"])
            add_common_labels(sp, xd, yd, ph)
            add_axis_titles(xd, yd, ISO_X, ISO_Y, pw, ph, 49, 19)

annotations.append(dict(text="error boxes are 2σ", xref="paper", yref="paper",
                        x=(357 - OFF) / W_FIG, y=1 - (11 - OFF) / H_FIG, xanchor="right", yanchor="middle",
                        showarrow=False, font=dict(family=FONT, size=15.5, color=INK)))
annotations.append(dict(text="error ellipses are 2σ", xref="paper", yref="paper",
                        x=(736 - OFF) / W_FIG, y=1 - (11 - OFF) / H_FIG, xanchor="right", yanchor="middle",
                        showarrow=False, font=dict(family=FONT, size=15.5, color=INK)))

layout["annotations"] = annotations
fig.update_layout(**layout)
fig.write_html("out.html", config={"displayModeBar": False, "staticPlot": True},
               post_script="document.body.style.margin='0';document.body.style.overflow='hidden';")
